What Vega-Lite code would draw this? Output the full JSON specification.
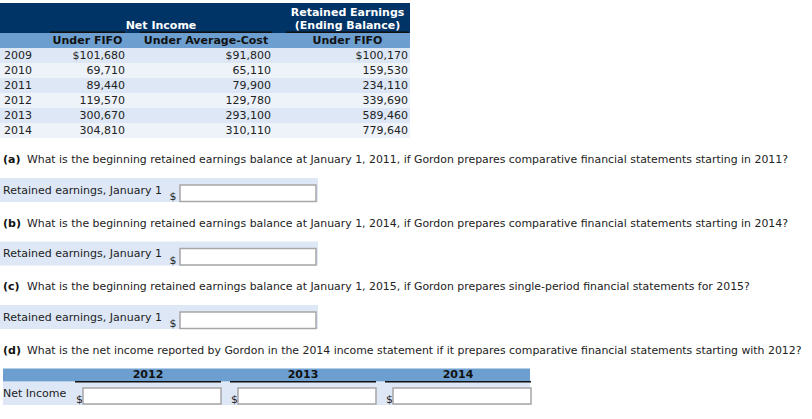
{
  "$schema": "https://vega.github.io/schema/vega-lite/v6.json",
  "width": 812,
  "height": 419,
  "autosize": {"type": "none"},
  "padding": 0,
  "background": "white",
  "config": {
    "view": {"stroke": null},
    "text": {"font": "DejaVu Sans", "fontSize": 11, "baseline": "middle"}
  },
  "datasets": {
    "table": [
      {"year": 2009, "fifo": 101680, "avg": 91800, "re": 100170},
      {"year": 2010, "fifo": 69710, "avg": 65110, "re": 159530},
      {"year": 2011, "fifo": 89440, "avg": 79900, "re": 234110},
      {"year": 2012, "fifo": 119570, "avg": 129780, "re": 339690},
      {"year": 2013, "fifo": 300670, "avg": 293100, "re": 589460},
      {"year": 2014, "fifo": 304810, "avg": 310110, "re": 779640}
    ],
    "headers": [
      {"row": "t1", "col": "re", "text": "Retained Earnings"},
      {"row": "t2", "col": "re", "text": "(Ending Balance)"},
      {"row": "t2", "col": "ni", "text": "Net Income"},
      {"row": "sub", "col": "fifo", "text": "Under FIFO"},
      {"row": "sub", "col": "avg", "text": "Under Average-Cost"},
      {"row": "sub", "col": "re", "text": "Under FIFO"}
    ],
    "questions": [
      {"part": "(a)", "question": "What is the beginning retained earnings balance at January 1, 2011, if Gordon prepares comparative financial statements starting in 2011?", "answer": "Retained earnings, January 1"},
      {"part": "(b)", "question": "What is the beginning retained earnings balance at January 1, 2014, if Gordon prepares comparative financial statements starting in 2014?", "answer": "Retained earnings, January 1"},
      {"part": "(c)", "question": "What is the beginning retained earnings balance at January 1, 2015, if Gordon prepares single-period financial statements for 2015?", "answer": "Retained earnings, January 1"},
      {"part": "(d)", "question": "What is the net income reported by Gordon in the 2014 income statement if it prepares comparative financial statements starting with 2012?", "answer": "Net Income"}
    ],
    "years": [{"year": 2012}, {"year": 2013}, {"year": 2014}]
  },
  "resolve": {"scale": {"x": "independent", "y": "independent"}},
  "layer": [
    {
      "resolve": {"scale": {"x": "independent"}},
      "layer": [
        {
          "layer": [
            {
              "data": {"name": "table"},
              "mark": {"type": "rect"},
              "encoding": {
                "x": {"datum": "table", "type": "nominal", "axis": null, "scale": {"type": "band", "domain": ["table"], "range": [0, 410], "paddingInner": 0, "paddingOuter": 0}},
                "y": {"field": "year", "type": "nominal", "axis": null, "scale": {"type": "band", "domain": ["t1", "t2", "sub", 2009, 2010, 2011, 2012, 2013, 2014], "range": [3, 138], "paddingInner": 0, "paddingOuter": 0}},
                "color": {"condition": {"test": "datum.year % 2 === 1", "value": "#dde7f5"}, "value": "#eef3fa"}
              }
            },
            {
              "data": {"name": "headers"},
              "mark": {"type": "rect"},
              "encoding": {
                "x": {"datum": "table", "type": "nominal", "axis": null, "scale": {"type": "band", "domain": ["table"], "range": [0, 410], "paddingInner": 0, "paddingOuter": 0}},
                "y": {"field": "row", "type": "nominal", "axis": null, "scale": {"type": "band", "domain": ["t1", "t2", "sub", 2009, 2010, 2011, 2012, 2013, 2014], "range": [3, 138], "paddingInner": 0, "paddingOuter": 0}},
                "color": {"field": "row", "type": "nominal", "legend": null, "scale": {"domain": ["t1", "t2", "sub"], "range": ["#003366", "#003366", "#6c9fcf"]}}
              }
            }
          ]
        },
        {
          "data": {"name": "table"},
          "mark": {"type": "text", "align": "left", "color": "#222222"},
          "encoding": {
            "x": {"datum": "year", "type": "nominal", "axis": null, "bandPosition": 0, "scale": {"type": "band", "domain": ["year"], "range": [4, 45], "paddingInner": 0, "paddingOuter": 0}},
            "y": {"field": "year", "type": "nominal", "axis": null, "bandPosition": 0.5, "scale": {"type": "band", "domain": ["t1", "t2", "sub", 2009, 2010, 2011, 2012, 2013, 2014], "range": [3, 138], "paddingInner": 0, "paddingOuter": 0}},
            "text": {"field": "year", "type": "nominal"}
          }
        },
        {
          "data": {"name": "headers"},
          "transform": [{"filter": "datum.col === 'ni'"}],
          "mark": {"type": "text", "align": "center", "fontWeight": "bold", "color": "#ffffff"},
          "encoding": {
            "x": {"field": "col", "type": "nominal", "axis": null, "bandPosition": 0.5, "scale": {"type": "band", "domain": ["ni"], "range": [50, 272], "paddingInner": 0, "paddingOuter": 0}},
            "y": {"field": "row", "type": "nominal", "axis": null, "bandPosition": 0.5, "scale": {"type": "band", "domain": ["t1", "t2", "sub", 2009, 2010, 2011, 2012, 2013, 2014], "range": [3, 138], "paddingInner": 0, "paddingOuter": 0}},
            "text": {"field": "text", "type": "nominal"}
          }
        },
        {
          "layer": [
            {
              "data": {"name": "headers"},
              "transform": [{"filter": "datum.col === 'fifo' && datum.row === 'sub'"}],
              "mark": {"type": "rect", "color": "#111111", "yOffset": -1.5},
              "encoding": {
                "x": {"field": "col", "type": "nominal", "axis": null, "scale": {"type": "band", "domain": ["fifo"], "range": [50, 125], "paddingInner": 0, "paddingOuter": 0}},
                "y": {"field": "row", "type": "nominal", "axis": null, "bandPosition": 0, "scale": {"type": "band", "domain": ["t1", "t2", "sub", 2009, 2010, 2011, 2012, 2013, 2014], "range": [3, 138], "paddingInner": 0, "paddingOuter": 0}},
                "y2": {"field": "row", "bandPosition": 0}
              }
            },
            {
              "data": {"name": "headers"},
              "transform": [{"filter": "datum.col === 'fifo'"}],
              "mark": {"type": "text", "align": "center", "fontWeight": "bold", "color": "#111111"},
              "encoding": {
                "x": {"field": "col", "type": "nominal", "axis": null, "bandPosition": 0.5, "scale": {"type": "band", "domain": ["fifo"], "range": [50, 125], "paddingInner": 0, "paddingOuter": 0}},
                "y": {"field": "row", "type": "nominal", "axis": null, "bandPosition": 0.5, "scale": {"type": "band", "domain": ["t1", "t2", "sub", 2009, 2010, 2011, 2012, 2013, 2014], "range": [3, 138], "paddingInner": 0, "paddingOuter": 0}},
                "text": {"field": "text", "type": "nominal"}
              }
            },
            {
              "data": {"name": "table"},
              "mark": {"type": "text", "align": "right", "color": "#222222"},
              "encoding": {
                "x": {"datum": "fifo", "type": "nominal", "axis": null, "bandPosition": 1, "scale": {"type": "band", "domain": ["fifo"], "range": [50, 125], "paddingInner": 0, "paddingOuter": 0}},
                "y": {"field": "year", "type": "nominal", "axis": null, "bandPosition": 0.5, "scale": {"type": "band", "domain": ["t1", "t2", "sub", 2009, 2010, 2011, 2012, 2013, 2014], "range": [3, 138], "paddingInner": 0, "paddingOuter": 0}},
                "text": {"condition": {"test": "datum.year === 2009", "field": "fifo", "type": "quantitative", "format": "$,"}, "field": "fifo", "type": "quantitative", "format": ","}
              }
            }
          ]
        },
        {
          "layer": [
            {
              "data": {"name": "headers"},
              "transform": [{"filter": "datum.col === 'avg' && datum.row === 'sub'"}],
              "mark": {"type": "rect", "color": "#111111", "yOffset": -1.5},
              "encoding": {
                "x": {"field": "col", "type": "nominal", "axis": null, "scale": {"type": "band", "domain": ["avg"], "range": [140, 272], "paddingInner": 0, "paddingOuter": 0}},
                "y": {"field": "row", "type": "nominal", "axis": null, "bandPosition": 0, "scale": {"type": "band", "domain": ["t1", "t2", "sub", 2009, 2010, 2011, 2012, 2013, 2014], "range": [3, 138], "paddingInner": 0, "paddingOuter": 0}},
                "y2": {"field": "row", "bandPosition": 0}
              }
            },
            {
              "data": {"name": "headers"},
              "transform": [{"filter": "datum.col === 'avg'"}],
              "mark": {"type": "text", "align": "center", "fontWeight": "bold", "color": "#111111"},
              "encoding": {
                "x": {"field": "col", "type": "nominal", "axis": null, "bandPosition": 0.5, "scale": {"type": "band", "domain": ["avg"], "range": [140, 272], "paddingInner": 0, "paddingOuter": 0}},
                "y": {"field": "row", "type": "nominal", "axis": null, "bandPosition": 0.5, "scale": {"type": "band", "domain": ["t1", "t2", "sub", 2009, 2010, 2011, 2012, 2013, 2014], "range": [3, 138], "paddingInner": 0, "paddingOuter": 0}},
                "text": {"field": "text", "type": "nominal"}
              }
            },
            {
              "data": {"name": "table"},
              "mark": {"type": "text", "align": "right", "color": "#222222", "dx": -1},
              "encoding": {
                "x": {"datum": "avg", "type": "nominal", "axis": null, "bandPosition": 1, "scale": {"type": "band", "domain": ["avg"], "range": [140, 272], "paddingInner": 0, "paddingOuter": 0}},
                "y": {"field": "year", "type": "nominal", "axis": null, "bandPosition": 0.5, "scale": {"type": "band", "domain": ["t1", "t2", "sub", 2009, 2010, 2011, 2012, 2013, 2014], "range": [3, 138], "paddingInner": 0, "paddingOuter": 0}},
                "text": {"condition": {"test": "datum.year === 2009", "field": "avg", "type": "quantitative", "format": "$,"}, "field": "avg", "type": "quantitative", "format": ","}
              }
            }
          ]
        },
        {
          "layer": [
            {
              "data": {"name": "headers"},
              "transform": [{"filter": "datum.col === 're' && datum.row === 'sub'"}],
              "mark": {"type": "rect", "color": "#111111", "yOffset": -1.5},
              "encoding": {
                "x": {"field": "col", "type": "nominal", "axis": null, "scale": {"type": "band", "domain": ["re"], "range": [286, 409], "paddingInner": 0, "paddingOuter": 0}},
                "y": {"field": "row", "type": "nominal", "axis": null, "bandPosition": 0, "scale": {"type": "band", "domain": ["t1", "t2", "sub", 2009, 2010, 2011, 2012, 2013, 2014], "range": [3, 138], "paddingInner": 0, "paddingOuter": 0}},
                "y2": {"field": "row", "bandPosition": 0}
              }
            },
            {
              "data": {"name": "headers"},
              "transform": [{"filter": "datum.col === 're' && datum.row === 't1'"}],
              "mark": {"type": "text", "align": "center", "fontWeight": "bold", "color": "#ffffff", "dy": 2.5},
              "encoding": {
                "x": {"field": "col", "type": "nominal", "axis": null, "bandPosition": 0.5, "scale": {"type": "band", "domain": ["re"], "range": [286, 409], "paddingInner": 0, "paddingOuter": 0}},
                "y": {"field": "row", "type": "nominal", "axis": null, "bandPosition": 0.5, "scale": {"type": "band", "domain": ["t1", "t2", "sub", 2009, 2010, 2011, 2012, 2013, 2014], "range": [3, 138], "paddingInner": 0, "paddingOuter": 0}},
                "text": {"field": "text", "type": "nominal"}
              }
            },
            {
              "data": {"name": "headers"},
              "transform": [{"filter": "datum.col === 're' && datum.row !== 't1'"}],
              "mark": {"type": "text", "align": "center", "fontWeight": "bold"},
              "encoding": {
                "x": {"field": "col", "type": "nominal", "axis": null, "bandPosition": 0.5, "scale": {"type": "band", "domain": ["re"], "range": [286, 409], "paddingInner": 0, "paddingOuter": 0}},
                "y": {"field": "row", "type": "nominal", "axis": null, "bandPosition": 0.5, "scale": {"type": "band", "domain": ["t1", "t2", "sub", 2009, 2010, 2011, 2012, 2013, 2014], "range": [3, 138], "paddingInner": 0, "paddingOuter": 0}},
                "text": {"field": "text", "type": "nominal"},
                "color": {"condition": {"test": "datum.row === 'sub'", "value": "#111111"}, "value": "#ffffff"}
              }
            },
            {
              "data": {"name": "table"},
              "mark": {"type": "text", "align": "right", "color": "#222222", "dx": -1},
              "encoding": {
                "x": {"datum": "re", "type": "nominal", "axis": null, "bandPosition": 1, "scale": {"type": "band", "domain": ["re"], "range": [286, 409], "paddingInner": 0, "paddingOuter": 0}},
                "y": {"field": "year", "type": "nominal", "axis": null, "bandPosition": 0.5, "scale": {"type": "band", "domain": ["t1", "t2", "sub", 2009, 2010, 2011, 2012, 2013, 2014], "range": [3, 138], "paddingInner": 0, "paddingOuter": 0}},
                "text": {"condition": {"test": "datum.year === 2009", "field": "re", "type": "quantitative", "format": "$,"}, "field": "re", "type": "quantitative", "format": ","}
              }
            }
          ]
        }
      ]
    },
    {
      "resolve": {"scale": {"x": "independent"}},
      "layer": [
        {
          "layer": [
            {
              "data": {"name": "questions"},
              "transform": [{"filter": "datum.part === '(d)'"}],
              "mark": {"type": "rect", "color": "#6c9fcf", "xOffset": -72, "x2Offset": -1, "yOffset": 18, "y2Offset": 31},
              "encoding": {
                "x": {"datum": 2012, "type": "nominal", "axis": null, "bandPosition": 0, "scale": {"type": "band", "domain": [2012, 2013, 2014], "range": [75, 531], "paddingInner": 0.058, "paddingOuter": 0}},
                "x2": {"datum": 2014, "bandPosition": 1},
                "y": {"field": "part", "type": "nominal", "axis": null, "scale": {"type": "point", "domain": ["(a)", "(b)", "(c)", "(d)"], "range": [160, 350.5], "padding": 0}},
                "y2": {"field": "part"}
              }
            },
            {
              "data": {"name": "questions"},
              "transform": [{"filter": "datum.part === '(d)'"}],
              "mark": {"type": "rect", "color": "#dde7f6", "xOffset": -72, "x2Offset": -1, "yOffset": 31.5, "y2Offset": 54.5},
              "encoding": {
                "x": {"datum": 2012, "type": "nominal", "axis": null, "bandPosition": 0, "scale": {"type": "band", "domain": [2012, 2013, 2014], "range": [75, 531], "paddingInner": 0.058, "paddingOuter": 0}},
                "x2": {"datum": 2014, "bandPosition": 1},
                "y": {"field": "part", "type": "nominal", "axis": null, "scale": {"type": "point", "domain": ["(a)", "(b)", "(c)", "(d)"], "range": [160, 350.5], "padding": 0}},
                "y2": {"field": "part"}
              }
            },
            {
              "data": {"name": "years"},
              "mark": {"type": "rect", "color": "#111111", "yOffset": 30.5, "y2Offset": 32},
              "encoding": {
                "x": {"field": "year", "type": "nominal", "axis": null, "scale": {"type": "band", "domain": [2012, 2013, 2014], "range": [75, 531], "paddingInner": 0.058, "paddingOuter": 0}},
                "y": {"datum": "(d)", "type": "nominal", "axis": null, "scale": {"type": "point", "domain": ["(a)", "(b)", "(c)", "(d)"], "range": [160, 350.5], "padding": 0}},
                "y2": {"datum": "(d)"}
              }
            },
            {
              "data": {"name": "years"},
              "mark": {"type": "text", "align": "center", "color": "#111111", "fontWeight": "bold", "dy": 24.5},
              "encoding": {
                "x": {"field": "year", "type": "nominal", "axis": null, "bandPosition": 0.5, "scale": {"type": "band", "domain": [2012, 2013, 2014], "range": [75, 531], "paddingInner": 0.058, "paddingOuter": 0}},
                "y": {"datum": "(d)", "type": "nominal", "axis": null, "scale": {"type": "point", "domain": ["(a)", "(b)", "(c)", "(d)"], "range": [160, 350.5], "padding": 0}},
                "text": {"field": "year", "type": "nominal"}
              }
            },
            {
              "data": {"name": "years"},
              "mark": {"type": "text", "align": "left", "color": "#222222", "dx": 1, "dy": 49.5},
              "encoding": {
                "x": {"field": "year", "type": "nominal", "axis": null, "bandPosition": 0, "scale": {"type": "band", "domain": [2012, 2013, 2014], "range": [75, 531], "paddingInner": 0.058, "paddingOuter": 0}},
                "y": {"datum": "(d)", "type": "nominal", "axis": null, "scale": {"type": "point", "domain": ["(a)", "(b)", "(c)", "(d)"], "range": [160, 350.5], "padding": 0}},
                "text": {"value": "$"}
              }
            },
            {
              "data": {"name": "years"},
              "mark": {"type": "rect", "fill": "#ffffff", "stroke": "#a6a6a6", "strokeWidth": 1.5, "xOffset": 8, "yOffset": 37.5, "y2Offset": 53.5},
              "encoding": {
                "x": {"field": "year", "type": "nominal", "axis": null, "bandPosition": 0, "scale": {"type": "band", "domain": [2012, 2013, 2014], "range": [75, 531], "paddingInner": 0.058, "paddingOuter": 0}},
                "x2": {"field": "year", "bandPosition": 1},
                "y": {"datum": "(d)", "type": "nominal", "axis": null, "scale": {"type": "point", "domain": ["(a)", "(b)", "(c)", "(d)"], "range": [160, 350.5], "padding": 0}},
                "y2": {"datum": "(d)"}
              }
            }
          ]
        },
        {
          "layer": [
            {
              "data": {"name": "questions"},
              "transform": [{"filter": "datum.part !== '(d)'"}],
              "mark": {"type": "rect", "color": "#dde7f6", "xOffset": -3, "x2Offset": 2, "yOffset": 18, "y2Offset": 42},
              "encoding": {
                "x": {"datum": "label", "type": "nominal", "axis": null, "bandPosition": 0, "scale": {"type": "band", "domain": ["label", "field"], "range": [3, 316], "paddingInner": 0.2316, "paddingOuter": 0}},
                "x2": {"datum": "field", "bandPosition": 1},
                "y": {"field": "part", "type": "nominal", "axis": null, "scale": {"type": "point", "domain": ["(a)", "(b)", "(c)", "(d)"], "range": [160, 350.5], "padding": 0}},
                "y2": {"field": "part"}
              }
            },
            {
              "data": {"name": "questions"},
              "transform": [{"filter": "datum.part !== '(d)'"}],
              "mark": {"type": "rect", "fill": "#ffffff", "stroke": "#a6a6a6", "strokeWidth": 1.5, "yOffset": 25, "y2Offset": 41.5},
              "encoding": {
                "x": {"datum": "field", "type": "nominal", "axis": null, "scale": {"type": "band", "domain": ["label", "field"], "range": [3, 316], "paddingInner": 0.2316, "paddingOuter": 0}},
                "y": {"field": "part", "type": "nominal", "axis": null, "scale": {"type": "point", "domain": ["(a)", "(b)", "(c)", "(d)"], "range": [160, 350.5], "padding": 0}},
                "y2": {"field": "part"}
              }
            },
            {
              "data": {"name": "questions"},
              "transform": [{"filter": "datum.part !== '(d)'"}],
              "mark": {"type": "text", "align": "left", "color": "#222222", "dy": 30.5},
              "encoding": {
                "x": {"datum": "label", "type": "nominal", "axis": null, "bandPosition": 0, "scale": {"type": "band", "domain": ["label", "field"], "range": [3, 316], "paddingInner": 0.2316, "paddingOuter": 0}},
                "y": {"field": "part", "type": "nominal", "axis": null, "scale": {"type": "point", "domain": ["(a)", "(b)", "(c)", "(d)"], "range": [160, 350.5], "padding": 0}},
                "text": {"field": "answer", "type": "nominal"}
              }
            },
            {
              "data": {"name": "questions"},
              "transform": [{"filter": "datum.part === '(d)'"}],
              "mark": {"type": "text", "align": "left", "color": "#222222", "dy": 43.5},
              "encoding": {
                "x": {"datum": "label", "type": "nominal", "axis": null, "bandPosition": 0, "scale": {"type": "band", "domain": ["label", "field"], "range": [3, 316], "paddingInner": 0.2316, "paddingOuter": 0}},
                "y": {"field": "part", "type": "nominal", "axis": null, "scale": {"type": "point", "domain": ["(a)", "(b)", "(c)", "(d)"], "range": [160, 350.5], "padding": 0}},
                "text": {"field": "answer", "type": "nominal"}
              }
            },
            {
              "data": {"name": "questions"},
              "transform": [{"filter": "datum.part !== '(d)'"}],
              "mark": {"type": "text", "align": "right", "color": "#222222", "dx": -3.5, "dy": 37},
              "encoding": {
                "x": {"datum": "field", "type": "nominal", "axis": null, "bandPosition": 0, "scale": {"type": "band", "domain": ["label", "field"], "range": [3, 316], "paddingInner": 0.2316, "paddingOuter": 0}},
                "y": {"field": "part", "type": "nominal", "axis": null, "scale": {"type": "point", "domain": ["(a)", "(b)", "(c)", "(d)"], "range": [160, 350.5], "padding": 0}},
                "text": {"value": "$"}
              }
            },
            {
              "data": {"name": "questions"},
              "mark": {"type": "text", "align": "left", "color": "#111111", "fontWeight": "bold"},
              "encoding": {
                "x": {"datum": "label", "type": "nominal", "axis": null, "bandPosition": 0, "scale": {"type": "band", "domain": ["label", "field"], "range": [3, 316], "paddingInner": 0.2316, "paddingOuter": 0}},
                "y": {"field": "part", "type": "nominal", "axis": null, "scale": {"type": "point", "domain": ["(a)", "(b)", "(c)", "(d)"], "range": [160, 350.5], "padding": 0}},
                "text": {"field": "part", "type": "nominal"}
              }
            },
            {
              "data": {"name": "questions"},
              "mark": {"type": "text", "align": "left", "color": "#222222", "dx": 24, "fontSize": 10.9},
              "encoding": {
                "x": {"datum": "label", "type": "nominal", "axis": null, "bandPosition": 0, "scale": {"type": "band", "domain": ["label", "field"], "range": [3, 316], "paddingInner": 0.2316, "paddingOuter": 0}},
                "y": {"field": "part", "type": "nominal", "axis": null, "scale": {"type": "point", "domain": ["(a)", "(b)", "(c)", "(d)"], "range": [160, 350.5], "padding": 0}},
                "text": {"field": "question", "type": "nominal"}
              }
            }
          ]
        }
      ]
    }
  ]
}
